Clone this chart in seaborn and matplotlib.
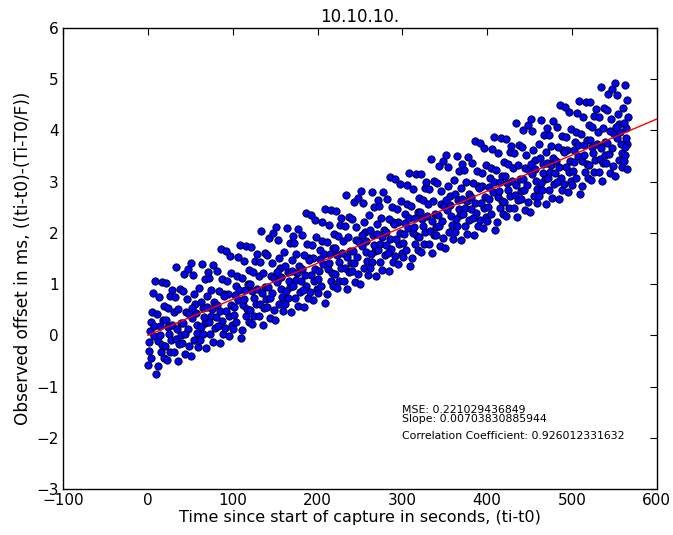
import matplotlib
matplotlib.use("Agg")
import matplotlib.pyplot as plt
import seaborn as sns
import numpy as np
import pandas as pd

# capture time (s) and observed offset (ms) in 10 s strips
time_s = [
    0.3, 1.1, 1.9, 2.6, 3.4, 4.3, 5.0, 5.8, 6.7, 7.5, 8.4, 9.3,
    10.7, 11.5, 12.2, 13.1, 13.9, 14.7, 15.4, 16.2, 17.1, 17.9, 18.8, 19.6,
    20.1, 20.9, 21.7, 22.4, 23.3, 24.1, 24.9, 25.7, 26.5, 27.3, 28.1, 29.0,
    30.5, 31.3, 32.0, 32.8, 33.7, 34.5, 35.2, 36.0, 36.9, 37.7, 38.6, 39.4,
    40.2, 41.0, 41.8, 42.7, 43.5, 44.4, 45.1, 45.9, 46.8, 47.6, 48.3, 49.1,
    59.3, 58.4, 57.5, 56.7, 55.8, 55.0, 54.3, 53.4, 52.6, 51.9, 51.1, 50.3,
    69.6, 68.8, 67.9, 67.1, 66.2, 65.4, 64.7, 63.9, 63.1, 62.2, 61.5, 60.7,
    79.0, 78.1, 77.3, 76.5, 75.7, 74.9, 74.1, 73.3, 72.4, 71.7, 70.9, 70.1,
    89.4, 88.6, 87.7, 86.9, 86.0, 85.2, 84.5, 83.7, 82.8, 82.0, 81.3, 80.5,
    99.1, 98.3, 97.6, 96.8, 95.9, 95.1, 94.4, 93.5, 92.7, 91.8, 91.0, 90.2,
    100.3, 101.1, 101.9, 102.6, 103.4, 104.3, 105.0, 105.8, 106.7, 107.5, 108.4, 109.3,
    110.7, 111.5, 112.2, 113.1, 113.9, 114.7, 115.4, 116.2, 117.1, 117.9, 118.8, 119.6,
    120.1, 120.9, 121.7, 122.4, 123.3, 124.1, 124.9, 125.7, 126.5, 127.3, 128.1, 129.0,
    130.5, 131.3, 132.0, 132.8, 133.7, 134.5, 135.2, 136.0, 136.9, 137.7, 138.6, 139.4,
    140.2, 141.0, 141.8, 142.7, 143.5, 144.4, 145.1, 145.9, 146.8, 147.6, 148.3, 149.1,
    159.3, 158.4, 157.5, 156.7, 155.8, 155.0, 154.3, 153.4, 152.6, 151.9, 151.1, 150.3,
    169.6, 168.8, 167.9, 167.1, 166.2, 165.4, 164.7, 163.9, 163.1, 162.2, 161.5, 160.7,
    179.0, 178.1, 177.3, 176.5, 175.7, 174.9, 174.1, 173.3, 172.4, 171.7, 170.9, 170.1,
    189.4, 188.6, 187.7, 186.9, 186.0, 185.2, 184.5, 183.7, 182.8, 182.0, 181.3, 180.5,
    199.1, 198.3, 197.6, 196.8, 195.9, 195.1, 194.4, 193.5, 192.7, 191.8, 191.0, 190.2,
    200.3, 201.1, 201.9, 202.6, 203.4, 204.3, 205.0, 205.8, 206.7, 207.5, 208.4, 209.3,
    210.7, 211.5, 212.2, 213.1, 213.9, 214.7, 215.4, 216.2, 217.1, 217.9, 218.8, 219.6,
    220.1, 220.9, 221.7, 222.4, 223.3, 224.1, 224.9, 225.7, 226.5, 227.3, 228.1, 229.0,
    230.5, 231.3, 232.0, 232.8, 233.7, 234.5, 235.2, 236.0, 236.9, 237.7, 238.6, 239.4,
    240.2, 241.0, 241.8, 242.7, 243.5, 244.4, 245.1, 245.9, 246.8, 247.6, 248.3, 249.1,
    259.3, 258.4, 257.5, 256.7, 255.8, 255.0, 254.3, 253.4, 252.6, 251.9, 251.1, 250.3,
    269.6, 268.8, 267.9, 267.1, 266.2, 265.4, 264.7, 263.9, 263.1, 262.2, 261.5, 260.7,
    279.0, 278.1, 277.3, 276.5, 275.7, 274.9, 274.1, 273.3, 272.4, 271.7, 270.9, 270.1,
    289.4, 288.6, 287.7, 286.9, 286.0, 285.2, 284.5, 283.7, 282.8, 282.0, 281.3, 280.5,
    299.1, 298.3, 297.6, 296.8, 295.9, 295.1, 294.4, 293.5, 292.7, 291.8, 291.0, 290.2,
    300.3, 301.1, 301.9, 302.6, 303.4, 304.3, 305.0, 305.8, 306.7, 307.5, 308.4, 309.3,
    310.7, 311.5, 312.2, 313.1, 313.9, 314.7, 315.4, 316.2, 317.1, 317.9, 318.8, 319.6,
    320.1, 320.9, 321.7, 322.4, 323.3, 324.1, 324.9, 325.7, 326.5, 327.3, 328.1, 329.0,
    330.5, 331.3, 332.0, 332.8, 333.7, 334.5, 335.2, 336.0, 336.9, 337.7, 338.6, 339.4,
    340.2, 341.0, 341.8, 342.7, 343.5, 344.4, 345.1, 345.9, 346.8, 347.6, 348.3, 349.1,
    359.3, 358.4, 357.5, 356.7, 355.8, 355.0, 354.3, 353.4, 352.6, 351.9, 351.1, 350.3,
    369.6, 368.8, 367.9, 367.1, 366.2, 365.4, 364.7, 363.9, 363.1, 362.2, 361.5, 360.7,
    379.0, 378.1, 377.3, 376.5, 375.7, 374.9, 374.1, 373.3, 372.4, 371.7, 370.9, 370.1,
    389.4, 388.6, 387.7, 386.9, 386.0, 385.2, 384.5, 383.7, 382.8, 382.0, 381.3, 380.5,
    399.1, 398.3, 397.6, 396.8, 395.9, 395.1, 394.4, 393.5, 392.7, 391.8, 391.0, 390.2,
    400.3, 401.1, 401.9, 402.6, 403.4, 404.3, 405.0, 405.8, 406.7, 407.5, 408.4, 409.3,
    410.7, 411.5, 412.2, 413.1, 413.9, 414.7, 415.4, 416.2, 417.1, 417.9, 418.8, 419.6,
    420.1, 420.9, 421.7, 422.4, 423.3, 424.1, 424.9, 425.7, 426.5, 427.3, 428.1, 429.0,
    430.5, 431.3, 432.0, 432.8, 433.7, 434.5, 435.2, 436.0, 436.9, 437.7, 438.6, 439.4,
    440.2, 441.0, 441.8, 442.7, 443.5, 444.4, 445.1, 445.9, 446.8, 447.6, 448.3, 449.1,
    459.3, 458.4, 457.5, 456.7, 455.8, 455.0, 454.3, 453.4, 452.6, 451.9, 451.1, 450.3,
    469.6, 468.8, 467.9, 467.1, 466.2, 465.4, 464.7, 463.9, 463.1, 462.2, 461.5, 460.7,
    479.0, 478.1, 477.3, 476.5, 475.7, 474.9, 474.1, 473.3, 472.4, 471.7, 470.9, 470.1,
    489.4, 488.6, 487.7, 486.9, 486.0, 485.2, 484.5, 483.7, 482.8, 482.0, 481.3, 480.5,
    499.1, 498.3, 497.6, 496.8, 495.9, 495.1, 494.4, 493.5, 492.7, 491.8, 491.0, 490.2,
    500.3, 501.1, 501.9, 502.6, 503.4, 504.3, 505.0, 505.8, 506.7, 507.5, 508.4, 509.3,
    510.7, 511.5, 512.2, 513.1, 513.9, 514.7, 515.4, 516.2, 517.1, 517.9, 518.8, 519.6,
    520.1, 520.9, 521.7, 522.4, 523.3, 524.1, 524.9, 525.7, 526.5, 527.3, 528.1, 529.0,
    530.5, 531.3, 532.0, 532.8, 533.7, 534.5, 535.2, 536.0, 536.9, 537.7, 538.6, 539.4,
    540.2, 541.0, 541.8, 542.7, 543.5, 544.4, 545.1, 545.9, 546.8, 547.6, 548.3, 549.1,
    559.3, 558.4, 557.5, 556.7, 555.8, 555.0, 554.3, 553.4, 552.6, 551.9, 551.1, 550.3,
    565.8, 565.3, 564.7, 564.3, 563.7, 563.2, 562.8, 562.3, 561.9, 561.3, 560.9, 560.4,
]

offset_ms = [
    -0.58, -0.31, -0.14, 0.09, 0.26, -0.44, 0.45, 0.82, -0.01, 0.19, 1.06, -0.76,
    0.42, -0.60, -0.11, 0.75, 0.01, 0.19, -0.33, 1.04, -0.18, 0.30, -0.44, 0.58,
    -0.20, 0.30, 1.03, -0.48, 0.16, 0.54, 0.03, -0.33, 0.76, -0.09, 0.89, 0.21,
    0.45, -0.33, 0.74, -0.08, 1.33, 0.13, -0.50, 0.52, -0.16, 0.91, 0.25, 0.01,
    -0.15, 0.87, 0.24, 1.20, 0.02, -0.36, 0.46, 0.71, 0.13, 1.29, -0.21, 0.42,
    -0.23, 0.04, 0.21, 0.44, 0.61, -0.09, 0.80, 1.17, 0.34, 0.54, 1.41, -0.41,
    0.77, -0.25, 0.24, 1.10, 0.36, 0.54, 0.02, 1.39, 0.17, 0.65, -0.09, 0.93,
    0.15, 0.65, 1.38, -0.13, 0.51, 0.89, 0.38, 0.02, 1.11, 0.26, 1.24, 0.56,
    0.80, 0.02, 1.09, 0.27, 1.68, 0.48, -0.15, 0.87, 0.19, 1.26, 0.60, 0.36,
    0.20, 1.22, 0.59, 1.55, 0.37, -0.01, 0.81, 1.06, 0.48, 1.64, 0.14, 0.77,
    0.12, 0.39, 0.56, 0.79, 0.96, 0.26, 1.15, 1.52, 0.69, 0.89, 1.76, -0.06,
    1.12, 0.10, 0.59, 1.45, 0.71, 0.89, 0.37, 1.74, 0.52, 1.00, 0.26, 1.28,
    0.50, 1.00, 1.73, 0.22, 0.86, 1.24, 0.73, 0.37, 1.46, 0.61, 1.59, 0.91,
    1.15, 0.37, 1.44, 0.62, 2.03, 0.83, 0.20, 1.22, 0.54, 1.61, 0.95, 0.71,
    0.55, 1.57, 0.94, 1.90, 0.72, 0.34, 1.16, 1.41, 0.83, 1.99, 0.49, 1.12,
    0.47, 0.74, 0.91, 1.14, 1.31, 0.61, 1.50, 1.87, 1.04, 1.24, 2.11, 0.29,
    1.47, 0.45, 0.94, 1.80, 1.06, 1.24, 0.72, 2.09, 0.87, 1.35, 0.61, 1.63,
    0.85, 1.35, 2.08, 0.57, 1.21, 1.59, 1.08, 0.72, 1.81, 0.96, 1.94, 1.26,
    1.50, 0.72, 1.79, 0.97, 2.38, 1.18, 0.55, 1.57, 0.89, 1.96, 1.30, 1.06,
    0.90, 1.92, 1.29, 2.25, 1.07, 0.69, 1.51, 1.76, 1.18, 2.34, 0.84, 1.47,
    0.82, 1.09, 1.26, 1.49, 1.66, 0.96, 1.85, 2.22, 1.39, 1.59, 2.46, 0.64,
    1.82, 0.80, 1.29, 2.15, 1.41, 1.59, 1.07, 2.44, 1.22, 1.70, 0.96, 1.98,
    1.20, 1.70, 2.43, 0.92, 1.56, 1.94, 1.43, 1.07, 2.16, 1.31, 2.29, 1.61,
    1.85, 1.07, 2.14, 1.32, 2.73, 1.53, 0.90, 1.92, 1.24, 2.31, 1.65, 1.41,
    1.25, 2.27, 1.64, 2.60, 1.42, 1.04, 1.86, 2.11, 1.53, 2.69, 1.19, 1.82,
    1.18, 1.45, 1.62, 1.85, 2.02, 1.32, 2.21, 2.58, 1.75, 1.95, 2.82, 1.00,
    2.18, 1.16, 1.65, 2.51, 1.77, 1.95, 1.43, 2.80, 1.58, 2.06, 1.32, 2.34,
    1.56, 2.06, 2.79, 1.28, 1.92, 2.30, 1.79, 1.43, 2.52, 1.67, 2.65, 1.97,
    2.21, 1.43, 2.50, 1.68, 3.09, 1.89, 1.26, 2.28, 1.60, 2.67, 2.01, 1.77,
    1.61, 2.63, 2.00, 2.96, 1.78, 1.40, 2.22, 2.47, 1.89, 3.05, 1.55, 2.18,
    1.53, 1.80, 1.97, 2.20, 2.37, 1.67, 2.56, 2.93, 2.10, 2.30, 3.17, 1.35,
    2.53, 1.51, 2.00, 2.86, 2.12, 2.30, 1.78, 3.15, 1.93, 2.41, 1.67, 2.69,
    1.91, 2.41, 3.14, 1.63, 2.27, 2.65, 2.14, 1.78, 2.87, 2.02, 3.00, 2.32,
    2.56, 1.78, 2.85, 2.03, 3.44, 2.24, 1.61, 2.63, 1.95, 3.02, 2.36, 2.12,
    1.96, 2.98, 2.35, 3.31, 2.13, 1.75, 2.57, 2.82, 2.24, 3.40, 1.90, 2.53,
    1.88, 2.15, 2.32, 2.55, 2.72, 2.02, 2.91, 3.28, 2.45, 2.65, 3.52, 1.70,
    2.88, 1.86, 2.35, 3.21, 2.47, 2.65, 2.13, 3.50, 2.28, 2.76, 2.02, 3.04,
    2.26, 2.76, 3.49, 1.98, 2.62, 3.00, 2.49, 2.13, 3.22, 2.37, 3.35, 2.67,
    2.91, 2.13, 3.20, 2.38, 3.79, 2.59, 1.96, 2.98, 2.30, 3.37, 2.71, 2.47,
    2.31, 3.33, 2.70, 3.66, 2.48, 2.10, 2.92, 3.17, 2.59, 3.75, 2.25, 2.88,
    2.23, 2.50, 2.67, 2.90, 3.07, 2.37, 3.26, 3.63, 2.80, 3.00, 3.87, 2.05,
    3.23, 2.21, 2.70, 3.56, 2.82, 3.00, 2.48, 3.85, 2.63, 3.11, 2.37, 3.39,
    2.61, 3.11, 3.84, 2.33, 2.97, 3.35, 2.84, 2.48, 3.57, 2.72, 3.70, 3.02,
    3.26, 2.48, 3.55, 2.73, 4.14, 2.94, 2.31, 3.33, 2.65, 3.72, 3.06, 2.82,
    2.66, 3.68, 3.05, 4.01, 2.83, 2.45, 3.27, 3.52, 2.94, 4.10, 2.60, 3.23,
    2.58, 2.85, 3.02, 3.25, 3.42, 2.72, 3.61, 3.98, 3.15, 3.35, 4.22, 2.40,
    3.58, 2.56, 3.05, 3.91, 3.17, 3.35, 2.83, 4.20, 2.98, 3.46, 2.72, 3.74,
    2.96, 3.46, 4.19, 2.68, 3.32, 3.70, 3.19, 2.83, 3.92, 3.07, 4.05, 3.37,
    3.61, 2.83, 3.90, 3.08, 4.49, 3.29, 2.66, 3.68, 3.00, 4.07, 3.41, 3.17,
    3.01, 4.03, 3.40, 4.36, 3.18, 2.80, 3.62, 3.87, 3.29, 4.45, 2.95, 3.58,
    2.94, 3.21, 3.38, 3.61, 3.78, 3.08, 3.97, 4.34, 3.51, 3.71, 4.58, 2.76,
    3.94, 2.92, 3.41, 4.27, 3.53, 3.71, 3.19, 4.56, 3.34, 3.82, 3.08, 4.10,
    3.32, 3.82, 4.55, 3.04, 3.68, 4.06, 3.55, 3.19, 4.28, 3.43, 4.41, 3.73,
    3.97, 3.19, 4.26, 3.44, 4.85, 3.65, 3.02, 4.04, 3.36, 4.43, 3.77, 3.53,
    3.37, 4.39, 3.76, 4.72, 3.54, 3.16, 3.98, 4.23, 3.65, 4.81, 3.31, 3.94,
    3.29, 3.56, 3.73, 3.96, 4.13, 3.43, 4.32, 4.69, 3.86, 4.06, 4.93, 3.11,
    4.27, 3.25, 3.74, 4.60, 3.86, 4.04, 3.52, 4.89, 3.67, 4.15, 3.41, 4.43,
]

# fit numbers printed on the chart
mse = "0.221029436849"
slope = 0.00703830885944
intercept = 0.0
corr = "0.926012331632"

df = pd.DataFrame({"t": time_s, "off": offset_ms})

sns.set_style("white")
plt.rcParams["font.family"] = ["DejaVu Sans"]
plt.rcParams["xtick.direction"] = "in"
plt.rcParams["ytick.direction"] = "in"
for k in ["text.color", "axes.labelcolor", "xtick.color", "ytick.color"]:
    plt.rcParams[k] = "black"

fig = plt.figure(figsize=(6.73, 5.35), dpi=100)
ax = fig.add_axes([0.0936, 0.086, 0.8824, 0.8617])

sns.scatterplot(data=df, x="t", y="off", ax=ax, color="#0000ff",
                edgecolor="black", linewidth=0.6, s=28, legend=False, zorder=2)

xl = np.array([0, 600])
ax.plot(xl, slope * xl + intercept, color="red", linewidth=1.0, zorder=3)

ax.set_xlim(-100, 600)
ax.set_ylim(-3, 6)
ax.set_xticks(range(-100, 601, 100))
ax.set_yticks(range(-3, 7))
ax.tick_params(axis="both", which="both", top=True, right=True, length=5,
               width=0.8, labelsize=11, color="black", pad=3)
for sp in ax.spines.values():
    sp.set_color("black")
    sp.set_linewidth(1.0)

ax.set_xlabel("Time since start of capture in seconds, (ti-t0)", fontsize=11.5, labelpad=1)
ax.set_ylabel("Observed offset in ms, ((ti-t0)-(Ti-T0/F))", fontsize=12.2, labelpad=3)
ax.set_title("10.10.10.", fontsize=12, pad=4)

ax.text(300, -1.7, "MSE: " + mse + "\nSlope: " + str(slope), fontsize=7.8, linespacing=0.95)
ax.text(300, -2.02, "Correlation Coefficient: " + corr, fontsize=7.8)

fig.savefig("out.png", dpi=100)
